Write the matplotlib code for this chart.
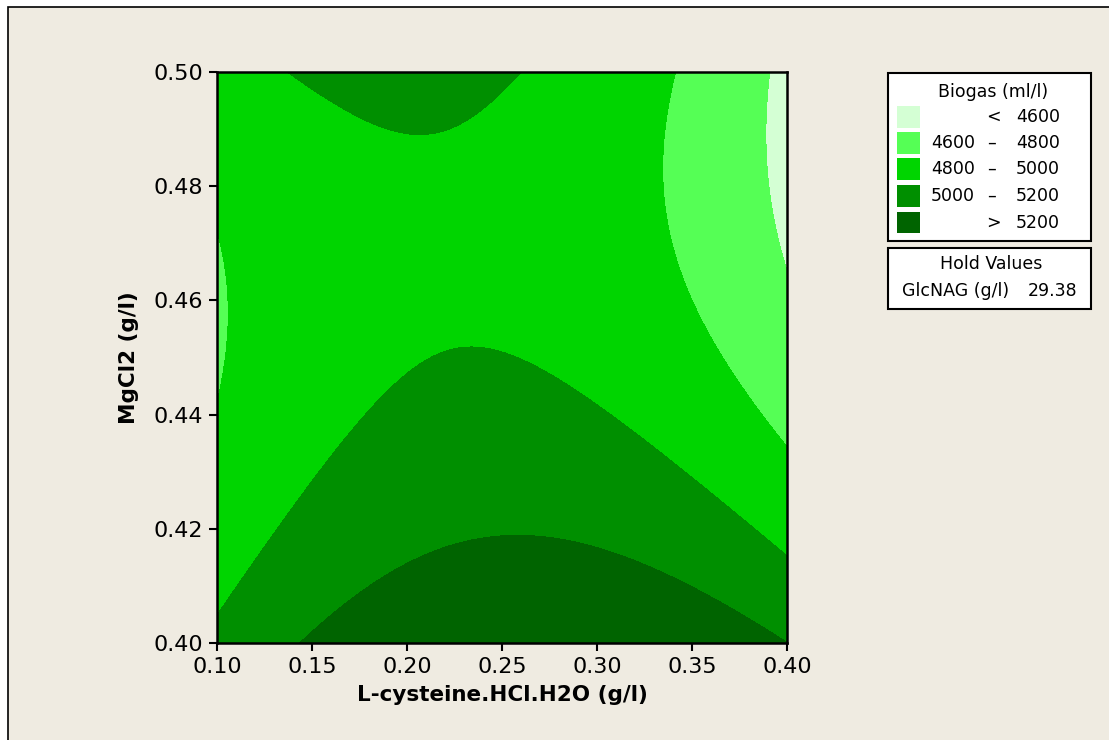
import numpy as np
import matplotlib
matplotlib.use("Agg")
import matplotlib.pyplot as plt
from matplotlib.patches import Rectangle

# fitted response surface for Biogas, coded units, GlcNAG held at 29.38 g/l
# terms: const, u, v, u^2, v^2, u*v   (u -> L-cysteine, v -> MgCl2)
coef = [5003.6, -53.2, -189.6, -270.8, 199.7, -132.6]
x_range = [0.10, 0.40]
y_range = [0.40, 0.50]
levels = [4600, 4800, 5000, 5200]
level_colors = ['#d4ffd4', '#55ff55', '#00d500', '#008f00', '#006400']
x_ticks = [0.10, 0.15, 0.20, 0.25, 0.30, 0.35, 0.40]
y_ticks = [0.40, 0.42, 0.44, 0.46, 0.48, 0.50]
hold_name = "GlcNAG (g/l)"
hold_value = 29.38

W, H = 1109, 740
BG = '#efebe1'

def fx(px):
    return px / W

def fy(py):
    return 1 - py / H

xs = np.linspace(x_range[0], x_range[1], 301)
ys = np.linspace(y_range[0], y_range[1], 301)
X, Y = np.meshgrid(xs, ys)
U = (X - np.mean(x_range)) / ((x_range[1] - x_range[0]) / 2)
V = (Y - np.mean(y_range)) / ((y_range[1] - y_range[0]) / 2)
Z = coef[0] + coef[1]*U + coef[2]*V + coef[3]*U*U + coef[4]*V*V + coef[5]*U*V

plt.rcParams['font.family'] = ['DejaVu Sans']
fig = plt.figure(figsize=(W / 100, H / 100), dpi=100, facecolor='white')
fig.patches.append(Rectangle((fx(8), -0.1), 1.2, fy(7) + 0.1, transform=fig.transFigure,
                             facecolor=BG, edgecolor='black', linewidth=1.2, zorder=-10))

ax = fig.add_axes([fx(217), fy(643), fx(787) - fx(217), fy(72) - fy(643)])
ax.set_zorder(2)
bounds = [Z.min() - 1] + levels + [Z.max() + 1]
ax.contourf(X, Y, Z, levels=bounds, colors=level_colors)
ax.set_xlim(x_range)
ax.set_ylim(y_range)
ax.set_xticks(x_ticks)
ax.set_yticks(y_ticks)
ax.set_xticklabels([f"{t:.2f}" for t in x_ticks])
ax.set_yticklabels([f"{t:.2f}" for t in y_ticks])
ax.tick_params(direction='out', length=6, width=1.5, labelsize=16, pad=4, colors='black')
for s in ax.spines.values():
    s.set_linewidth(1.8)
ax.set_xlabel("L-cysteine.HCl.H2O (g/l)", fontsize=15.5, fontweight='bold', labelpad=6)
ax.set_ylabel("MgCl2 (g/l)", fontsize=15.5, fontweight='bold', labelpad=10)

# legend boxes on the right
fig.patches.append(Rectangle((fx(888), fy(241)), fx(1091) - fx(888), fy(73) - fy(241),
                             transform=fig.transFigure, facecolor='white',
                             edgecolor='black', linewidth=1.5))
fig.patches.append(Rectangle((fx(888), fy(309)), fx(1091) - fx(888), fy(248) - fy(309),
                             transform=fig.transFigure, facecolor='white',
                             edgecolor='black', linewidth=1.5))
fs = 12.5
fig.text(fx(993), fy(92), "Biogas (ml/l)", fontsize=fs, ha='center', va='center')
row_y = [117, 143, 169, 196, 223]
lo = [None] + levels
hi = levels + [None]
for i, py in enumerate(row_y):
    fig.patches.append(Rectangle((fx(897), fy(py + 10.5)), fx(920) - fx(897), 21 / H,
                                 transform=fig.transFigure, facecolor=level_colors[i],
                                 edgecolor='none'))
    if lo[i] is None:
        fig.text(fx(993), fy(py), "<", fontsize=fs, ha='center', va='center')
        fig.text(fx(1060), fy(py), f"{hi[i]}", fontsize=fs, ha='right', va='center')
    elif hi[i] is None:
        fig.text(fx(993), fy(py), ">", fontsize=fs, ha='center', va='center')
        fig.text(fx(1060), fy(py), f"{lo[i]}", fontsize=fs, ha='right', va='center')
    else:
        fig.text(fx(975), fy(py), f"{lo[i]}", fontsize=fs, ha='right', va='center')
        fig.text(fx(992), fy(py), "\u2013", fontsize=fs, ha='center', va='center')
        fig.text(fx(1060), fy(py), f"{hi[i]}", fontsize=fs, ha='right', va='center')

fig.text(fx(991), fy(264), "Hold Values", fontsize=fs, ha='center', va='center')
fig.text(fx(902), fy(291), hold_name, fontsize=fs, ha='left', va='center')
fig.text(fx(1077), fy(291), f"{hold_value:.2f}", fontsize=fs, ha='right', va='center')

fig.savefig("out.png", dpi=100, facecolor=fig.get_facecolor())
